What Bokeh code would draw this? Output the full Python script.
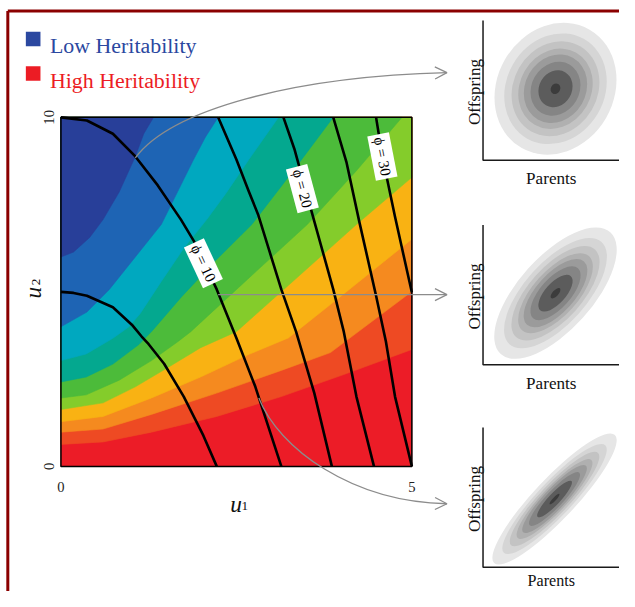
import numpy as np
from bokeh.plotting import figure
from bokeh.models import Range1d, Arrow, OpenHead
from bokeh.core.properties import value
from bokeh.embed import file_html
from bokeh.resources import INLINE

# ---------------- data ----------------
U1_MAX, U2_MAX = 5, 10
x_tick_labels = ["0", "5"]
x_tick_values = [0, 5]
y_tick_labels = ["10", "0"]
y_tick_values = [10, 0]

band_colors = ["#283F99", "#1E64B4", "#00A8BF", "#04A88F", "#4CBB3A",
               "#84CC2B", "#F9B213", "#F58A1F", "#EE4A23", "#EC1C27"]

# boundaries between successive heritability bands (from left edge to top/right edge)
b1_u1 = [0, 0.18, 0.41, 0.60, 0.83, 1.06, 1.18, 1.32]
b1_u2 = [6.00, 6.14, 6.56, 7.07, 7.86, 8.88, 9.53, 10]
b2_u1 = [0, 0.37, 0.69, 1.06, 1.43, 1.66, 1.89, 2.06, 2.24]
b2_u2 = [4.00, 4.42, 5.07, 6.00, 6.93, 7.86, 8.79, 9.44, 10]
b3_u1 = [0, 0.36, 0.74, 0.97, 1.13, 1.43, 1.75, 2.08, 2.36, 2.68, 3.10]
b3_u2 = [3.03, 3.22, 3.67, 4.00, 4.38, 5.30, 6.25, 7.08, 7.85, 8.80, 10]
b4_u1 = [0, 0.36, 0.74, 1.11, 1.29, 1.71, 2.19, 2.72, 3.31, 3.88]
b4_u2 = [2.42, 2.56, 2.93, 3.49, 3.86, 4.84, 5.87, 6.93, 8.47, 10]
b5_u1 = [0, 0.36, 0.83, 1.29, 1.67, 1.85, 2.68, 3.51, 4.21, 4.86]
b5_u2 = [1.96, 2.05, 2.47, 3.03, 3.58, 3.86, 5.40, 6.93, 8.47, 10]
b6_u1 = [0, 0.60, 1.06, 1.53, 1.99, 2.50, 3.31, 4.21, 5.0]
b6_u2 = [1.63, 1.82, 2.28, 2.84, 3.40, 3.86, 5.31, 6.93, 8.28]
b7_u1 = [0, 0.60, 1.29, 1.99, 2.68, 3.24, 4.14, 5.0]
b7_u2 = [1.28, 1.43, 1.96, 2.56, 3.21, 3.68, 5.12, 6.51]
b8_u1 = [0, 0.60, 1.29, 2.22, 3.14, 3.84, 5.0]
b8_u2 = [0.98, 1.07, 1.49, 2.10, 2.75, 3.26, 5.01]
b9_u1 = [0, 0.60, 1.29, 2.22, 3.14, 4.07, 5.0]
b9_u2 = [0.63, 0.70, 0.98, 1.43, 2.00, 2.66, 3.35]

# phi contour lines
phi5_u1 = [0, 0.18, 0.37, 0.74, 1.01, 1.15, 1.25, 1.47, 1.75, 2.03, 2.22]
phi5_u2 = [5.0, 4.97, 4.89, 4.56, 4.06, 3.72, 3.50, 2.94, 2.00, 0.88, 0]
phi10_u1 = [0, 0.37, 0.74, 1.06, 1.38, 1.71, 1.89, 2.22, 2.50, 2.77, 3.14]
phi10_u2 = [10, 9.91, 9.53, 8.88, 8.05, 7.07, 6.47, 5.07, 3.68, 2.28, 0]
phi15_u1 = [2.24, 2.50, 2.68, 2.81, 3.14, 3.35, 3.61, 3.86]
phi15_u2 = [10, 8.79, 7.86, 7.21, 5.07, 3.86, 2.10, 0]
phi20_u1 = [3.17, 3.33, 3.61, 3.88, 4.03, 4.21, 4.46]
phi20_u2 = [10, 9.07, 7.02, 5.07, 3.86, 2.00, 0]
phi25_u1 = [3.88, 4.07, 4.25, 4.49, 4.63, 4.76, 5.0]
phi25_u2 = [10, 8.70, 7.02, 4.89, 3.58, 2.00, 0]
phi30_u1 = [4.49, 4.58, 4.76, 5.0]
phi30_u2 = [10, 8.88, 7.15, 4.98]

phi_label_text = ["\u03d5 = 10", "\u03d5 = 20", "\u03d5 = 30"]
phi_label_u1 = [2.03, 3.44, 4.58]
phi_label_u2 = [5.82, 7.96, 8.88]
phi_label_angle_deg = [-65, -75, -79]

# arrows from the phi = 10 line to the insets (cubic curves: start, ctrl1, ctrl2, end)
arrow_u1 = [[1.06, 1.57, 3.31, 5.50], [2.24, 3.3, 4.4, 5.50], [2.82, 3.10, 4.14, 5.50]]
arrow_u2 = [[8.84, 10.22, 11.17, 11.28], [4.92, 4.92, 4.92, 4.92], [1.96, 0.52, -1.02, -1.07]]

# parent-offspring insets (local units): outer ellipse, orientation, ring scale
inset_cx = [5.31, 5.31, 5.24]
inset_cy = [5.24, 5.24, 5.00]
inset_major = [10.0, 12.0, 12.9]
inset_minor = [8.57, 5.4, 3.0]
inset_angle_deg = [60, 48, 46.7]
ring_scale = [1.0, 0.84, 0.72, 0.61, 0.52, 0.41, 0.28, 0.08]
ring_colors = ["#E6E6E6", "#D5D5D5", "#C3C3C3", "#B0B0B0", "#9B9B9B", "#858585", "#5C5C5C", "#3C3C3C"]

legend_labels = ["Low Heritability", "High Heritability"]
legend_colors = ["#2B48A0", "#EC1C24"]

# ---------------- layout (reference-pixel geometry, scaled to the figure) ----------------
REF_W, REF_H = 635, 607
FIG_W, FIG_H = 619, 591
BOX_L, BOX_R, BOX_T, BOX_B = 62.0, 422.0, 120.0, 478.5   # main panel, reference px
sx = (BOX_R - BOX_L) / U1_MAX
sy = (BOX_B - BOX_T) / U2_MAX
INSET_L = 495.0
INSET_B = [164.0, 374.0, 582.0]
INSET_S = 14.0
PARENTS_Y = [-1.36, -1.36, -1.0]
FS = FIG_W / REF_W  # font scale


def px(xp, yp):
    """reference pixel -> main data coordinates (for decorations only)"""
    return (xp - BOX_L) / sx, (BOX_B - yp) / sy


def fs(v):
    return f"{v * FS:.1f}px"


p = figure(width=FIG_W, height=FIG_H, title=None,
           x_range=Range1d(-BOX_L / sx, (REF_W - BOX_L) / sx),
           y_range=Range1d(-(REF_H - BOX_B) / sy, BOX_B / sy),
           output_backend="svg", toolbar_location=None, min_border=0,
           x_axis_type=None, y_axis_type=None)
p.grid.visible = False
p.outline_line_color = None
p.background_fill_color = "white"
p.border_fill_color = "white"

p.extra_x_ranges = {"ins": Range1d(-INSET_L / INSET_S, (REF_W - INSET_L) / INSET_S)}
p.extra_y_ranges = {f"ins{k}": Range1d((b - REF_H) / INSET_S, b / INSET_S) for k, b in enumerate(INSET_B)}

SERIF = value("Liberation Serif")

# ---- frame border (dark red) ----
bx, by = px(7.5, 10.8)
fx, fy = px(REF_W + 20, REF_H + 20)
p.segment(x0=[bx, bx], y0=[by, by], x1=[bx, fx], y1=[fy, by], line_color="#8B0000", line_width=3)

# ---- contour bands ----
boundaries = [(b1_u1, b1_u2), (b2_u1, b2_u2), (b3_u1, b3_u2), (b4_u1, b4_u2), (b5_u1, b5_u2),
              (b6_u1, b6_u2), (b7_u1, b7_u2), (b8_u1, b8_u2), (b9_u1, b9_u2)]
xs = [[0, U1_MAX, U1_MAX, 0]]
ys = [[0, 0, U2_MAX, U2_MAX]]
cols = [band_colors[-1]]
for k in range(len(boundaries) - 1, -1, -1):
    bu1, bu2 = boundaries[k]
    px_, py_ = list(bu1), list(bu2)
    if px_[-1] >= U1_MAX:
        px_.append(U1_MAX); py_.append(U2_MAX)
    px_.append(0); py_.append(U2_MAX)
    xs.append(px_); ys.append(py_); cols.append(band_colors[k])
p.patches(xs=xs, ys=ys, fill_color=cols, line_color=cols, line_width=0.6)

# ---- phi lines ----
p.multi_line(xs=[phi5_u1, phi10_u1, phi15_u1, phi20_u1, phi25_u1, phi30_u1],
             ys=[phi5_u2, phi10_u2, phi15_u2, phi20_u2, phi25_u2, phi30_u2],
             line_color="black", line_width=2.6, line_join="round")

# ---- panel outline ----
p.quad(left=[0], right=[U1_MAX], bottom=[0], top=[U2_MAX], fill_color=None,
       line_color="black", line_width=1.5)

# ---- arrows ----
GRAY = "#8C8C8C"
ax = np.array(arrow_u1); ay = np.array(arrow_u2)
p.bezier(x0=ax[:, 0], y0=ay[:, 0], cx0=ax[:, 1], cy0=ay[:, 1], cx1=ax[:, 2], cy1=ay[:, 2],
         x1=ax[:, 3], y1=ay[:, 3], line_color=GRAY, line_width=1.3)
for i in range(len(ax)):
    dx, dy = ax[i, 3] - ax[i, 2], ay[i, 3] - ay[i, 2]
    n = np.hypot(dx * sx, dy * sy)
    p.add_layout(Arrow(end=OpenHead(size=12, line_color=GRAY, line_width=1.3),
                       x_start=ax[i, 3] - dx * 4 / n, y_start=ay[i, 3] - dy * 4 / n,
                       x_end=ax[i, 3], y_end=ay[i, 3], line_alpha=0))

# ---- phi labels ----
p.text(x=phi_label_u1, y=phi_label_u2, text=phi_label_text,
       angle=[np.deg2rad(a) for a in phi_label_angle_deg],
       text_font=SERIF, text_font_size=fs(15.5), text_color="black",
       text_align="center", text_baseline="middle",
       background_fill_color="white", padding=3)

# ---- axis texts ----
p.text(x=x_tick_values, y=[px(0, 500)[1]] * 2, text=x_tick_labels, text_font=SERIF,
       text_font_size=fs(15), text_color="#222222", text_align="center", text_baseline="alphabetic")
p.text(x=[px(50, 0)[0]] * 2, y=y_tick_values, text=y_tick_labels, angle=np.pi / 2,
       text_font=SERIF, text_font_size=fs(15), text_color="#222222",
       text_align="center", text_baseline="alphabetic")
ux, uy = px(241.7, 516.7)
p.text(x=[ux], y=[uy], text=["u"], text_font=SERIF, text_font_style="italic",
       text_font_size=fs(24), text_color="#111111", text_align="center", text_baseline="alphabetic")
s1x, s1y = px(250.5, 519.5)
p.text(x=[s1x], y=[s1y], text=["1"], text_font=SERIF, text_font_size=fs(13.5),
       text_color="#111111", text_align="center", text_baseline="alphabetic")
vx, vy = px(33.3, 300)
p.text(x=[vx], y=[vy], text=["u"], angle=np.pi / 2, text_font=SERIF, text_font_style="italic",
       text_font_size=fs(24), text_color="#111111", text_align="center", text_baseline="alphabetic")
wx, wy = px(36.0, 289)
p.text(x=[wx], y=[wy], text=["2"], angle=np.pi / 2, text_font=SERIF, text_font_size=fs(13.5),
       text_color="#111111", text_align="center", text_baseline="alphabetic")

# ---- legend ----
lx, ly0 = px(33.5, 39.5)
_, ly1 = px(33.5, 75)
p.scatter(x=[lx, lx], y=[ly0, ly1], marker="square", size=15 * FS, fill_color=legend_colors,
          line_color=None)
tlx, tly0 = px(50.7, 46.7)
_, tly1 = px(50.7, 82.3)
for lab, col, yy in zip(legend_labels, legend_colors, [tly0, tly1]):
    p.text(x=[tlx], y=[yy], text=[lab], text_font=SERIF, text_font_size=fs(22.5),
           text_color=col, text_align="left", text_baseline="alphabetic")

# ---- insets ----
for k in range(3):
    yr = f"ins{k}"
    sc = np.array(ring_scale)
    p.ellipse(x=[inset_cx[k]] * len(sc), y=[inset_cy[k]] * len(sc),
              width=inset_major[k] * sc, height=inset_minor[k] * sc,
              angle=np.deg2rad(inset_angle_deg[k]), fill_color=ring_colors, line_color=None,
              x_range_name="ins", y_range_name=yr)
    p.line(x=[0, 0, 11], y=[10.24, 0, 0], line_color="#1A1A1A", line_width=1.5,
           x_range_name="ins", y_range_name=yr)
    p.text(x=[5.0], y=[PARENTS_Y[k]], text=["Parents"], text_font=SERIF,
           text_font_size=fs(17.5 if k < 2 else 16.5), text_color="#111111", text_align="center",
           text_baseline="alphabetic", x_range_name="ins", y_range_name=yr)
    p.text(x=[-0.64], y=[5.0], text=["Offspring"], angle=np.pi / 2, text_font=SERIF,
           text_font_size=fs(17.5), text_color="#111111", text_align="center",
           text_baseline="alphabetic", x_range_name="ins", y_range_name=yr)

open("out.html", "w").write(file_html(p, INLINE))
